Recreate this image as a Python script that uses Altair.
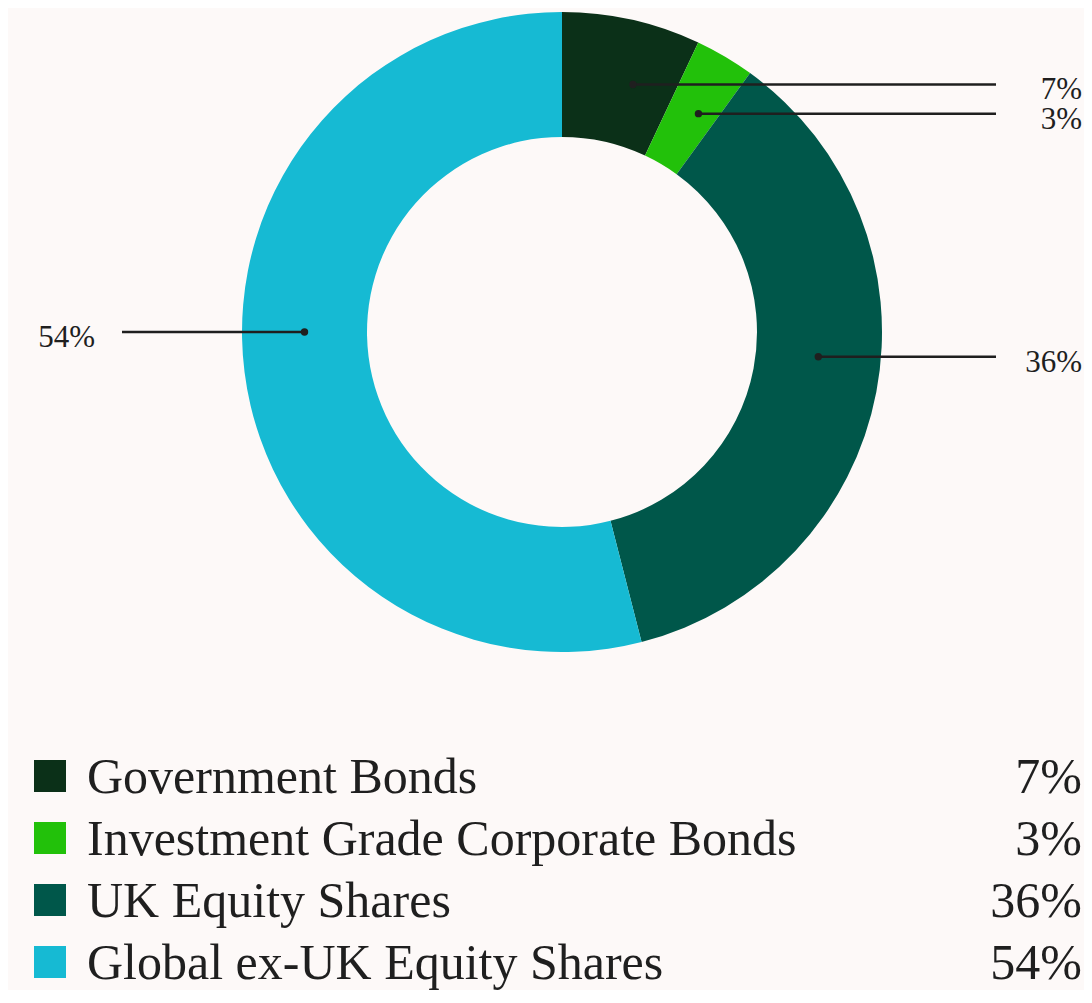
import altair as alt
import pandas as pd

# ---- data ----
categories = [
    "Government Bonds",
    "Investment Grade Corporate Bonds",
    "UK Equity Shares",
    "Global ex-UK Equity Shares",
]
values = [7, 3, 36, 54]
colors = ["#0b3018", "#22c10a", "#00574a", "#16bad3"]
# angle (degrees clockwise from 12 o'clock) at which each leader line starts
label_angles = [16, 32, 95.5, 270]

# ---- layout (chart pixels; page = chart + 8) ----
W, H = 1076, 982
CX, CY = 554, 324
R_OUT, R_IN = 320, 195
R_DOT = (R_OUT + R_IN) / 2
FONT = "Liberation Serif"
INK = "#1f1f1f"

df = pd.DataFrame({
    "category": categories,
    "value": values,
    "order": list(range(len(categories))),
    "angle": label_angles,
})
df["label"] = df["value"].astype(str) + "%"

base = alt.Chart(df)
color_scale = alt.Scale(domain=categories, range=colors)

arcs = base.mark_arc(innerRadius=R_IN, outerRadius=R_OUT).encode(
    theta=alt.Theta("value:Q", stack=True),
    order=alt.Order("order:Q"),
    color=alt.Color("category:N", scale=color_scale, legend=None),
    x=alt.value(CX),
    y=alt.value(CY),
)

lead = base.transform_calculate(
    px=f"{CX} + {R_DOT} * sin(datum.angle * PI / 180)",
    py=f"{CY} - {R_DOT} * cos(datum.angle * PI / 180)",
    ex="datum.angle < 180 ? 988 : 114",
    tx="datum.angle < 180 ? 1074 : 87",
)

xs = alt.X("px:Q", scale=None, axis=None)
ys = alt.Y("py:Q", scale=None, axis=None)

lines = lead.mark_rule(color=INK, strokeWidth=2.5).encode(x=xs, x2="ex:Q", y=ys)
dots = lead.mark_circle(size=55, color=INK, opacity=1).encode(x=xs, y=ys)
plabels = lead.mark_text(
    font=FONT, fontSize=31, align="right", baseline="alphabetic", dy=15, color=INK
).encode(x=alt.X("tx:Q", scale=None, axis=None), y=ys, text="label:N")

leg = base.transform_calculate(ly="768 + 62 * datum.order")
ly = alt.Y("ly:Q", scale=None, axis=None)
squares = leg.mark_square(size=1024, opacity=1).encode(
    x=alt.value(42), y=ly,
    color=alt.Color("category:N", scale=color_scale, legend=None),
)
names = leg.mark_text(
    font=FONT, fontSize=50, align="left", baseline="alphabetic", dy=17, color=INK
).encode(x=alt.value(79), y=ly, text="category:N")
pcts = leg.mark_text(
    font=FONT, fontSize=50, align="right", baseline="alphabetic", dy=17, color=INK
).encode(x=alt.value(1074), y=ly, text="label:N")

chart = alt.layer(arcs, lines, dots, plabels, squares, names, pcts).properties(
    width=W, height=H, autosize="none", padding=0, background="#fdf9f8"
).configure_view(stroke=None)

chart.save("out.html", embed_options={"renderer": "svg", "actions": False})
